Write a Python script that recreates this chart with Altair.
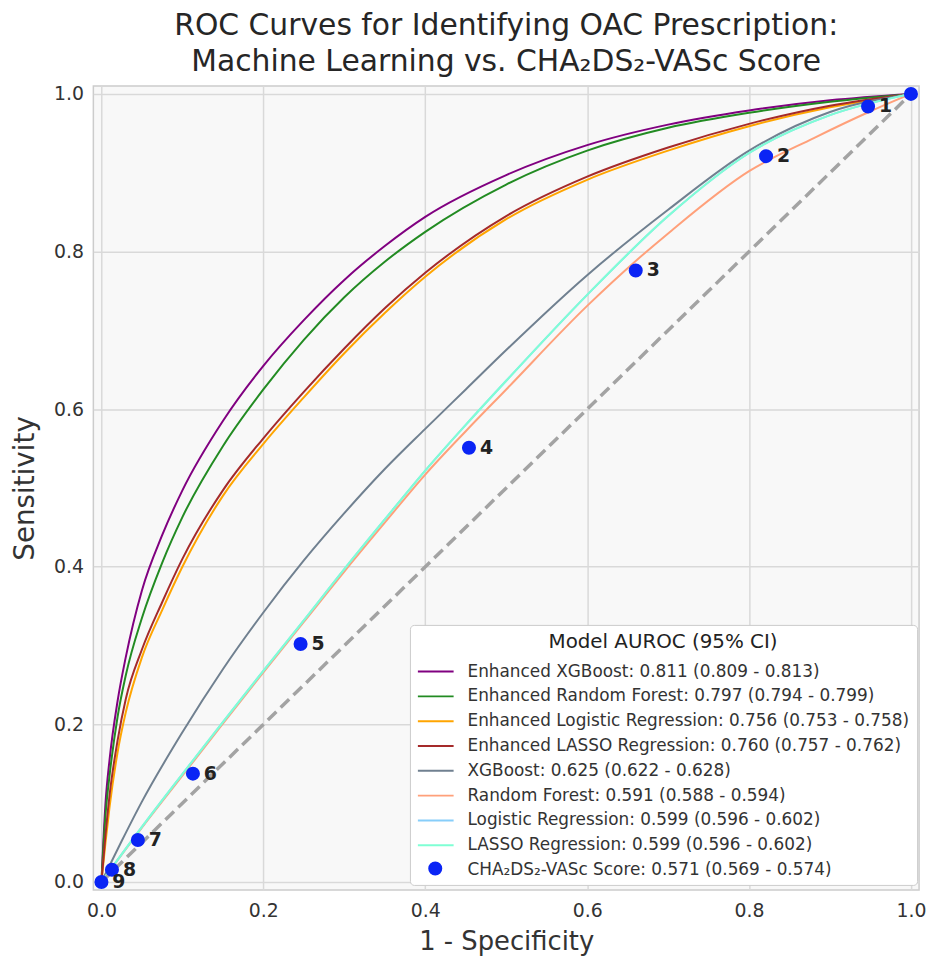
import altair as alt
import pandas as pd

# ---------------- data ----------------
models = [
    "Enhanced XGBoost: 0.811 (0.809 - 0.813)",
    "Enhanced Random Forest: 0.797 (0.794 - 0.799)",
    "Enhanced Logistic Regression: 0.756 (0.753 - 0.758)",
    "Enhanced LASSO Regression: 0.760 (0.757 - 0.762)",
    "XGBoost: 0.625 (0.622 - 0.628)",
    "Random Forest: 0.591 (0.588 - 0.594)",
    "Logistic Regression: 0.599 (0.596 - 0.602)",
    "LASSO Regression: 0.599 (0.596 - 0.602)",
]
colors = ["#800080", "#228B22", "#FFA500", "#A52A2A", "#708090", "#FFA07A", "#87CEFA", "#7FFFD4"]
cha_name = "CHA\u2082DS\u2082-VASc Score: 0.571 (0.569 - 0.574)"

fx = [0, 0.005, 0.01, 0.02, 0.03, 0.05, 0.075, 0.1, 0.15, 0.2, 0.25, 0.3, 0.35, 0.4, 0.5, 0.6, 0.7, 0.8, 0.9, 1.0]

exgb_x = list(fx)
exgb_y = [0, 0.10, 0.155, 0.23, 0.285, 0.37, 0.44, 0.497, 0.585, 0.655, 0.713, 0.764, 0.807, 0.844, 0.897, 0.935, 0.961, 0.979, 0.992, 1.0]

erf_x = list(fx)
erf_y = [0, 0.085, 0.135, 0.21, 0.262, 0.335, 0.405, 0.463, 0.553, 0.625, 0.688, 0.742, 0.787, 0.825, 0.885, 0.928, 0.957, 0.976, 0.99, 1.0]

elr_x = list(fx)
elr_y = [0, 0.05, 0.095, 0.165, 0.215, 0.285, 0.345, 0.40, 0.49, 0.556, 0.615, 0.671, 0.722, 0.768, 0.841, 0.891, 0.928, 0.959, 0.983, 1.0]

elasso_x = list(fx)
elasso_y = [0, 0.06, 0.11, 0.18, 0.232, 0.295, 0.355, 0.41, 0.497, 0.563, 0.622, 0.677, 0.728, 0.773, 0.845, 0.895, 0.932, 0.962, 0.985, 1.0]

xgb_x = [0, 0.025, 0.05, 0.1, 0.15, 0.2, 0.25, 0.3, 0.35, 0.4, 0.45, 0.5, 0.6, 0.7, 0.8, 0.9, 1.0]
xgb_y = [0, 0.052, 0.102, 0.19, 0.27, 0.342, 0.408, 0.468, 0.524, 0.575, 0.625, 0.675, 0.770, 0.853, 0.928, 0.977, 1.0]

rf_x = [0, 0.05, 0.1, 0.15, 0.2, 0.25, 0.3, 0.35, 0.4, 0.45, 0.5, 0.6, 0.66, 0.7, 0.8, 0.88, 0.95, 1.0]
rf_y = [0, 0.069, 0.135, 0.201, 0.266, 0.33, 0.394, 0.456, 0.517, 0.572, 0.625, 0.731, 0.788, 0.823, 0.902, 0.944, 0.978, 1.0]

lr_x = [0, 0.05, 0.1, 0.15, 0.2, 0.25, 0.3, 0.35, 0.4, 0.45, 0.5, 0.6, 0.7, 0.8, 0.9, 1.0]
lr_y = [0, 0.07, 0.137, 0.203, 0.268, 0.332, 0.397, 0.46, 0.522, 0.58, 0.636, 0.745, 0.845, 0.925, 0.973, 1.0]

lasso_x = list(lr_x)
lasso_y = list(lr_y)

cha_x = [1.0, 0.947, 0.821, 0.660, 0.454, 0.246, 0.113, 0.045, 0.013, 0.0]
cha_y = [1.0, 0.984, 0.921, 0.776, 0.551, 0.302, 0.1375, 0.0534, 0.0155, 0.0]
cha_labels = ["", "1", "2", "3", "4", "5", "6", "7", "8", "9"]

diag_x = [0.0, 1.0]
diag_y = [0.0, 1.0]

tick_values = [0.0, 0.2, 0.4, 0.6, 0.8, 1.0]

curves = [
    (exgb_x, exgb_y), (erf_x, erf_y), (elr_x, elr_y), (elasso_x, elasso_y),
    (xgb_x, xgb_y), (rf_x, rf_y), (lr_x, lr_y), (lasso_x, lasso_y),
]

# ---------------- chart ----------------
FONT = "DejaVu Sans"

x_enc = alt.X(
    "x:Q",
    scale=alt.Scale(domain=[-0.01, 1.01], nice=False, zero=False),
    axis=alt.Axis(
        values=tick_values, format=".1f", title="1 - Specificity",
        labelFont=FONT, labelFontSize=19, labelColor="#333333", labelPadding=12,
        ticks=False, domain=False, gridColor="#d9d9d9", gridWidth=1.5,
        titleFont=FONT, titleFontSize=26, titleFontWeight="normal", titleColor="#333333",
        titlePadding=8,
    ),
)
y_enc = alt.Y(
    "y:Q",
    scale=alt.Scale(domain=[-0.01, 1.01], nice=False, zero=False),
    axis=alt.Axis(
        values=tick_values, format=".1f", title="Sensitivity",
        labelFont=FONT, labelFontSize=19, labelColor="#333333", labelPadding=10,
        ticks=False, domain=False, gridColor="#d9d9d9", gridWidth=1.5,
        titleFont=FONT, titleFontSize=28, titleFontWeight="normal", titleColor="#333333",
        titlePadding=14,
    ),
)

color_scale = alt.Scale(domain=models + [cha_name], range=colors + ["transparent"])
line_legend = alt.Legend(
    title="Model AUROC (95% CI)", orient="none", legendX=319, legendY=543,
    symbolType="M-1.5,0H1.5", symbolSize=576, symbolStrokeWidth=2, symbolOffset=6,
    labelFont=FONT, labelFontSize=17, labelColor="#333333", labelLimit=0, labelOffset=19,
    titleFont=FONT, titleFontSize=20, titleFontWeight="normal", titleColor="#222222",
    titleAnchor="middle", titlePadding=7, titleLimit=1000, padding=7, rowPadding=4,
    fillColor="white", strokeColor="#cccccc", cornerRadius=4,
)

layers = []
for name, (cx, cy) in zip(models, curves):
    df = pd.DataFrame({"x": cx, "y": cy, "model": name, "i": range(len(cx))})
    layers.append(
        alt.Chart(df).mark_line(strokeWidth=2, interpolate="monotone").encode(
            x=x_enc, y=y_enc,
            color=alt.Color("model:N", scale=color_scale, legend=line_legend),
            order="i:Q",
        )
    )

diag_df = pd.DataFrame({"x": diag_x, "y": diag_y})
layers.append(
    alt.Chart(diag_df).mark_line(strokeDash=[12, 6], color="#a3a3a3", strokeWidth=3.5).encode(
        x=x_enc, y=y_enc
    )
)

cha_df = pd.DataFrame({"x": cha_x, "y": cha_y, "label": cha_labels, "series": "cha"})
point_legend = alt.Legend(
    title=None, orient="none", legendX=337, legendY=781, symbolType="circle",
    symbolSize=200, symbolStrokeWidth=0, labelExpr="''", padding=0, zindex=1,
)
layers.append(
    alt.Chart(cha_df).mark_circle(size=200, opacity=1).encode(
        x=x_enc, y=y_enc,
        fill=alt.Fill("series:N", scale=alt.Scale(domain=["cha"], range=["#0a24f5"]), legend=point_legend),
    )
)
layers.append(
    alt.Chart(cha_df).mark_text(
        align="left", baseline="middle", dx=11, fontSize=19, fontWeight="bold",
        font=FONT, color="#222222",
    ).encode(x=x_enc, y=y_enc, text="label:N")
)

chart = (
    alt.layer(*layers)
    .properties(
        width=832, height=810,
        title=alt.TitleParams(
            text=["ROC Curves for Identifying OAC Prescription:",
                  "Machine Learning vs. CHA\u2082DS\u2082-VASc Score"],
            font=FONT, fontSize=30, fontWeight="normal", color="#262626",
            anchor="middle", frame="group", offset=8, lineHeight=36,
        ),
        autosize=alt.AutoSizeParams(type="none"),
        padding={"left": 86, "top": 75, "right": 9, "bottom": 64},
    )
    .configure(background="white")
    .configure_view(fill="#f8f8f8", stroke="#cccccc", strokeWidth=1.5)
)

chart.save("out.html", embed_options={"renderer": "svg", "actions": False})
